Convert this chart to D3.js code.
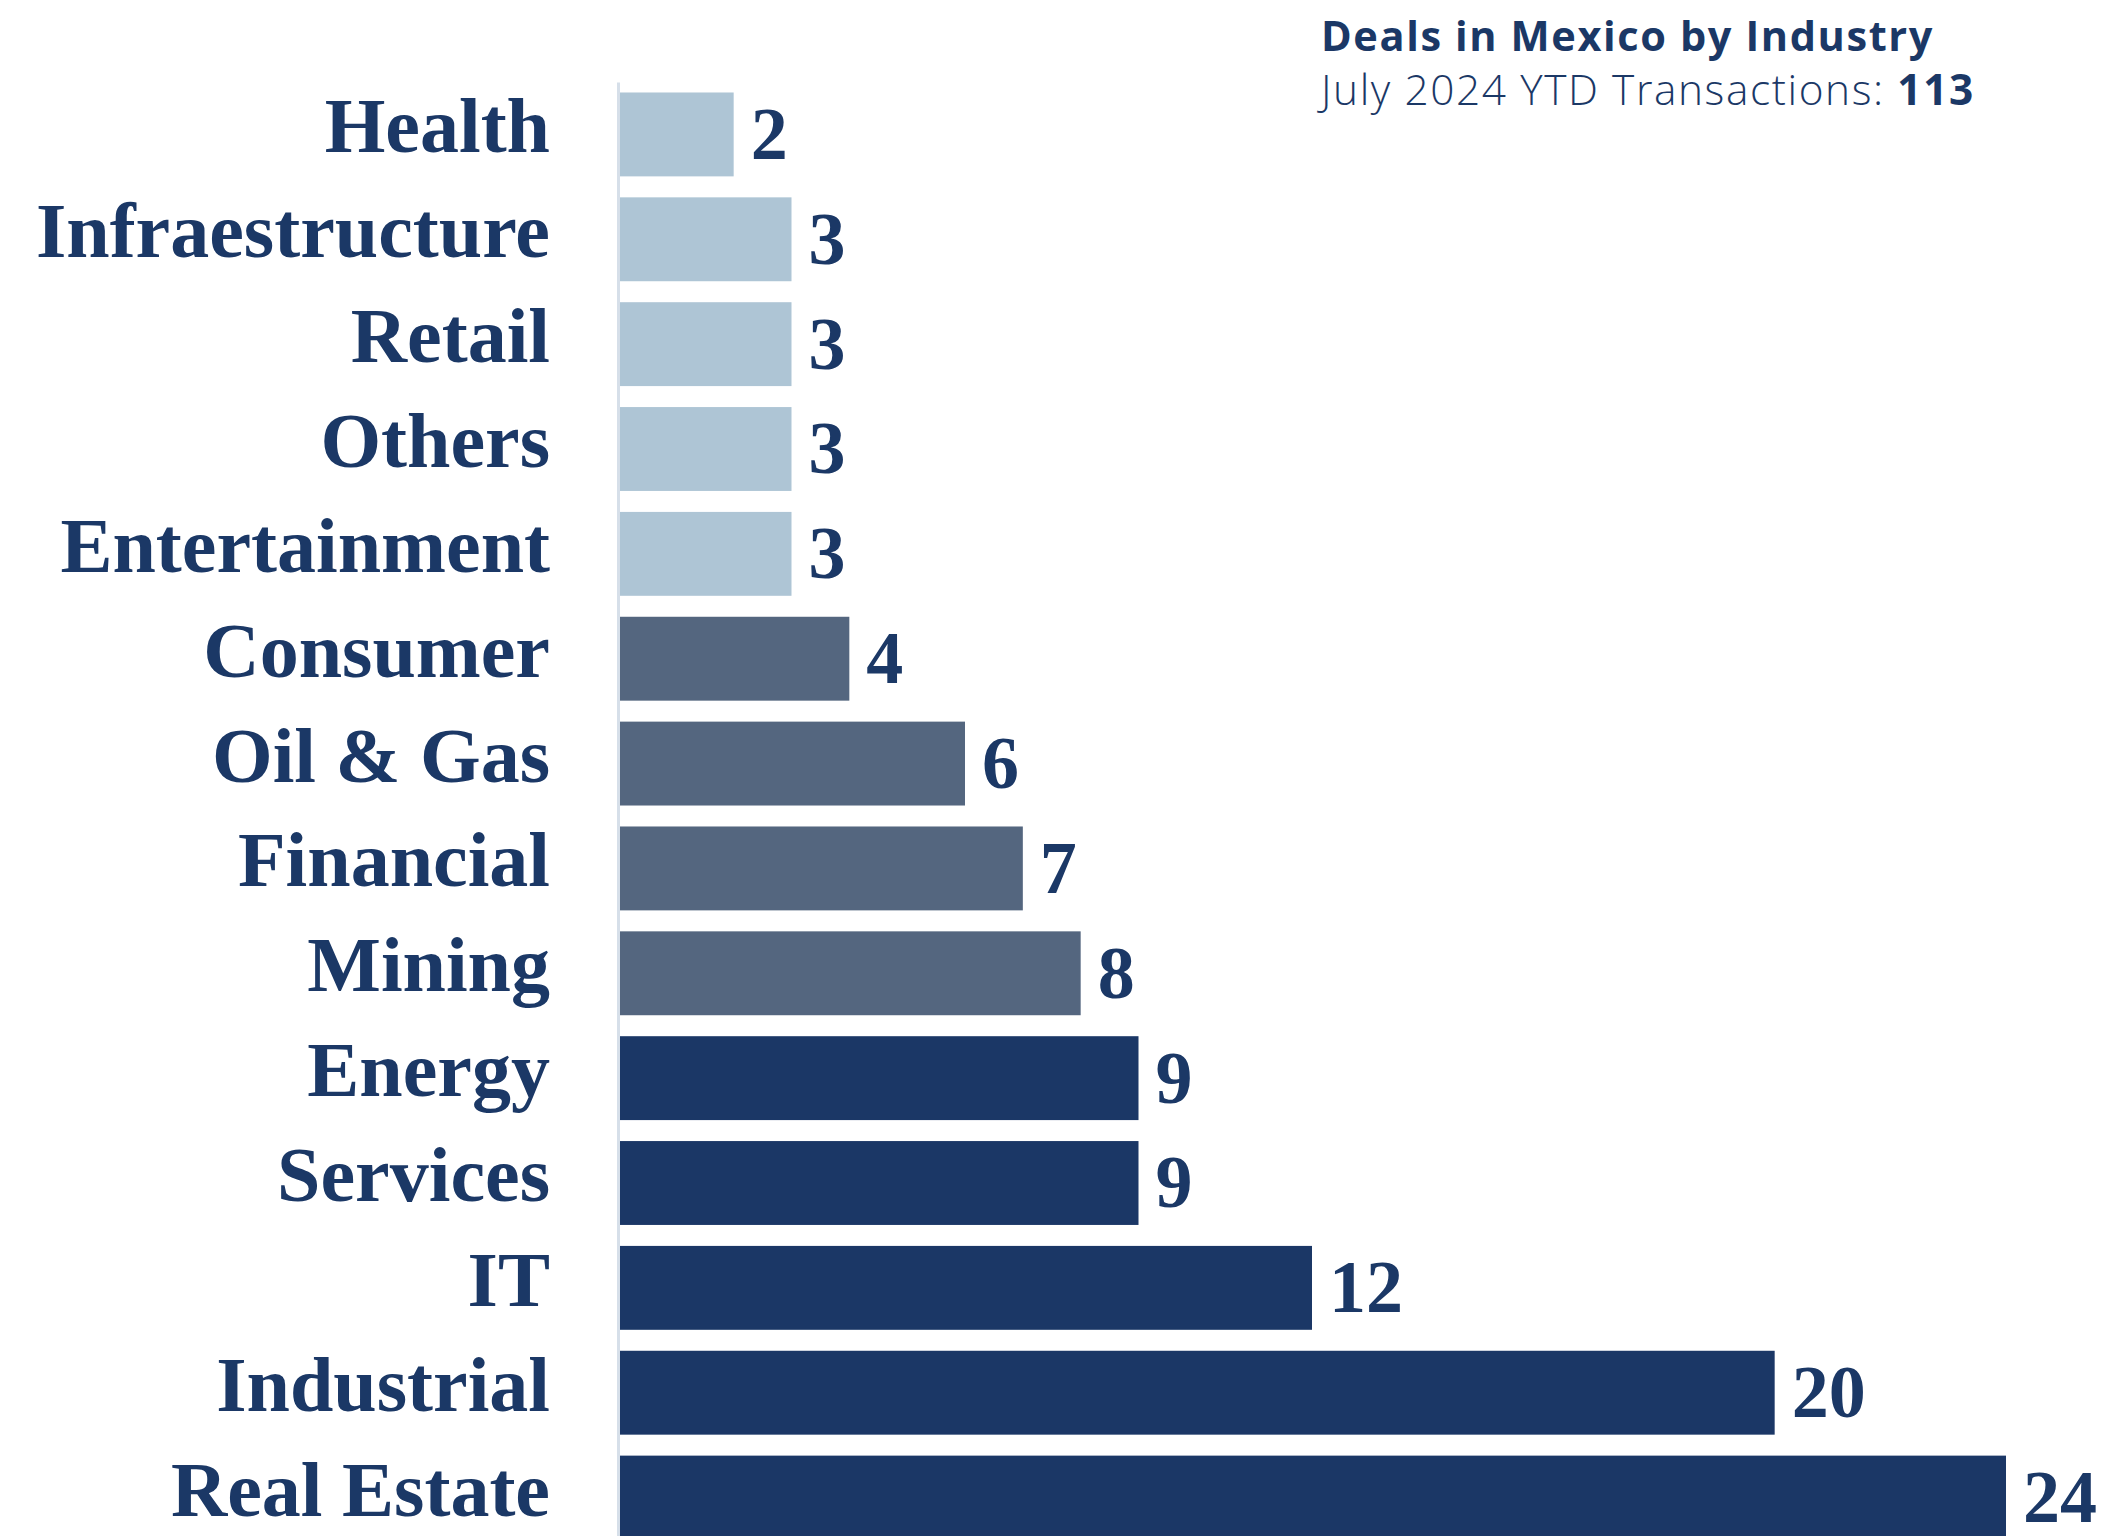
<!DOCTYPE html>
<html lang="en">

<head>
    <meta charset="UTF-8">
    <title>Deals in Mexico by Industry</title>
    <script src="https://cdn.jsdelivr.net/npm/d3@7"></script>
    <style>
        body {
            margin: 0;
            background: #fff;
        }

        .axis .domain {
            stroke: #d6dfe9;
            stroke-width: 3px;
        }

        .axis text {
            font-family: "Liberation Serif", serif;
            font-weight: bold;
            fill: #1b3866;
        }

        .value {
            font-family: "Liberation Serif", serif;
            font-weight: bold;
            fill: #1b3866;
        }

        .title {
            font-family: "Open Sans", sans-serif;
            fill: #1b3866;
            letter-spacing: 1.6px;
        }
    </style>
</head>

<body>
    <div id="chart"></div>
    <script>
        // top to bottom, as in the picture
        const industries = ['Health', 'Infraestructure', 'Retail', 'Others', 'Entertainment',
            'Consumer', 'Oil & Gas', 'Financial', 'Mining',
            'Energy', 'Services', 'IT', 'Industrial', 'Real Estate'];
        const deals = [2, 3, 3, 3, 3, 4, 6, 7, 8, 9, 9, 12, 20, 24];
        const tiers = ['low', 'low', 'low', 'low', 'low',
            'mid', 'mid', 'mid', 'mid',
            'high', 'high', 'high', 'high', 'high'];
        const titleText = 'Deals in Mexico by Industry';
        const subtitleText = 'July 2024 YTD Transactions: ';
        const totalDeals = 113;

        const W = 2107, H = 1536;
        const x0 = 618;

        const svg = d3.select('#chart').append('svg')
            .attr('width', W)
            .attr('height', H);

        const xScale = d3.scaleLinear()
            .domain([0, 24])
            .range([x0, 2006]);

        const yScale = d3.scaleBand()
            .domain(industries)
            .range([82, 1550])
            .paddingInner(0.2)
            .paddingOuter(0.1);

        const colorScale = d3.scaleOrdinal()
            .domain(['low', 'mid', 'high'])
            .range(['#aec5d5', '#54667f', '#1b3766']);

        const rows = industries.map((name, i) => ({ name, value: deals[i], tier: tiers[i] }));

        svg.selectAll('rect.bar')
            .data(rows)
            .enter()
            .append('rect')
            .attr('class', 'bar')
            .attr('x', xScale(0) + 1)
            .attr('y', d => yScale(d.name))
            .attr('width', d => xScale(d.value) - xScale(0) - 1)
            .attr('height', yScale.bandwidth())
            .attr('fill', d => colorScale(d.tier));

        // category labels + thin baseline line
        const axis = svg.append('g')
            .attr('class', 'axis')
            .attr('transform', `translate(${x0},0)`)
            .call(d3.axisLeft(yScale).tickSize(0).tickPadding(68));

        axis.selectAll('text')
            .attr('font-size', 78)
            .attr('dy', '0.23em');

        svg.selectAll('text.value')
            .data(rows)
            .enter()
            .append('text')
            .attr('class', 'value')
            .attr('x', d => xScale(d.value) + 17)
            .attr('y', d => yScale(d.name) + yScale.bandwidth() / 2)
            .attr('dy', '0.33em')
            .attr('font-size', 74)
            .text(d => d.value);

        // title block, top right
        const title = svg.append('text')
            .attr('class', 'title')
            .attr('x', 1321)
            .attr('y', 51)
            .attr('font-weight', 700)
            .attr('font-size', 32)
            .text(titleText);

        const sub = svg.append('text')
            .attr('class', 'title')
            .attr('x', 1321)
            .attr('y', 105)
            .attr('font-size', 32);
        sub.append('tspan').attr('font-weight', 300).text(subtitleText);
        sub.append('tspan').attr('font-weight', 700).text(totalDeals);

        // fit the two lines to the widths seen in the picture
        const fit = (sel, target) => {
            const w = sel.node().getComputedTextLength();
            sel.attr('font-size', 32 * target / w);
        };
        fit(title, 626);
        fit(sub, 670);
    </script>

</body>

</html>
